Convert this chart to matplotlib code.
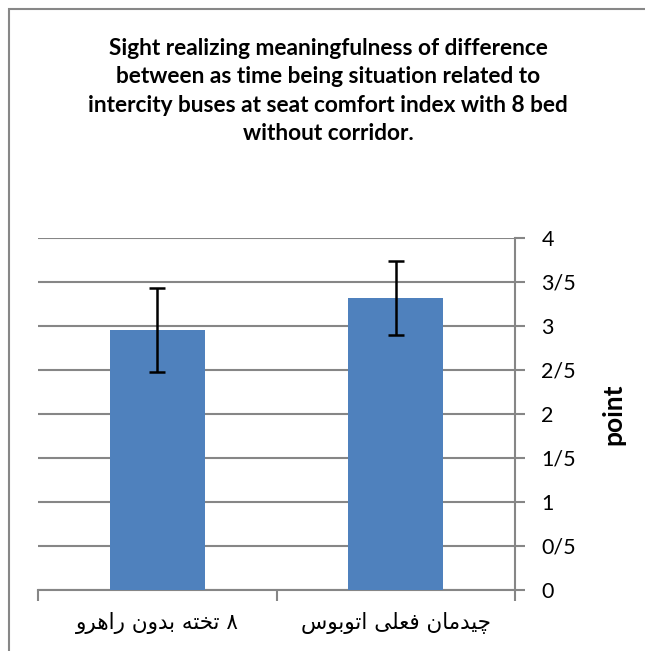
import numpy as np
import matplotlib
matplotlib.use('Agg')
import matplotlib.pyplot as plt
from matplotlib.patches import Rectangle

# Data
categories = ['۸ تخته بدون راهرو', 'چیدمان فعلی اتوبوس']
values = [2.955, 3.32]
errors = [0.475, 0.42]
y_ticks = [0, 0.5, 1, 1.5, 2, 2.5, 3, 3.5, 4]
y_tick_labels = ['0', '0/5', '1', '1/5', '2', '2/5', '3', '3/5', '4']
title = ('Sight realizing meaningfulness of difference\n'
         'between as time being situation related to\n'
         'intercity buses at seat comfort index with 8 bed\n'
         'without corridor.')

# Minimal Arabic-script shaping (matplotlib draws no joins and no RTL)
# forms: isolated, final, initial, medial
FORMS = {
    'ا': (0xFE8D, 0xFE8E), 'د': (0xFEA9, 0xFEAA), 'ر': (0xFEAD, 0xFEAE),
    'و': (0xFEED, 0xFEEE),
    'ب': (0xFE8F, 0xFE90, 0xFE91, 0xFE92), 'ت': (0xFE95, 0xFE96, 0xFE97, 0xFE98),
    'خ': (0xFEA5, 0xFEA6, 0xFEA7, 0xFEA8), 'س': (0xFEB1, 0xFEB2, 0xFEB3, 0xFEB4),
    'ع': (0xFEC9, 0xFECA, 0xFECB, 0xFECC), 'ف': (0xFED1, 0xFED2, 0xFED3, 0xFED4),
    'ل': (0xFEDD, 0xFEDE, 0xFEDF, 0xFEE0), 'م': (0xFEE1, 0xFEE2, 0xFEE3, 0xFEE4),
    'ن': (0xFEE5, 0xFEE6, 0xFEE7, 0xFEE8), 'ه': (0xFEE9, 0xFEEA, 0xFEEB, 0xFEEC),
    'چ': (0xFB7A, 0xFB7B, 0xFB7C, 0xFB7D), 'ی': (0xFBFC, 0xFBFD, 0xFBFE, 0xFBFF),
}


def shape(text):
    out = []
    for i, ch in enumerate(text):
        if ch not in FORMS:
            out.append(ch)
            continue
        prev = text[i - 1] if i > 0 else ''
        nxt = text[i + 1] if i + 1 < len(text) else ''
        join_prev = prev in FORMS and len(FORMS[prev]) == 4
        join_next = len(FORMS[ch]) == 4 and nxt in FORMS
        f = FORMS[ch]
        if join_prev and join_next:
            c = f[3]
        elif join_prev:
            c = f[1]
        elif join_next:
            c = f[2]
        else:
            c = f[0]
        out.append(chr(c))
    return ''.join(out)[::-1]


grid_col = '#868686'
bar_col = '#4F81BD'

fig = plt.figure(figsize=(6.45, 6.51), dpi=100)
ax = fig.add_axes([38 / 645, 1 - 590 / 651, 477 / 645, 352 / 651])

x = np.arange(len(categories))
ax.bar(x, values, width=0.4, color=bar_col, zorder=3)
ax.errorbar(x, values, yerr=errors, fmt='none', ecolor='black',
            elinewidth=1.8, capsize=6, capthick=1.8, zorder=4)

ax.set_xlim(-0.5, 1.5)
ax.set_ylim(0, 4)
ax.set_yticks(y_ticks)
ax.set_yticklabels(y_tick_labels, fontfamily='Lato', fontsize=15.5)
ax.yaxis.tick_right()
ax.yaxis.set_label_position('right')
ax.tick_params(axis='y', length=7, width=1.5, color=grid_col, pad=12)
ax.grid(axis='y', color=grid_col, linewidth=1.5, zorder=0)

# category ticks sit on the boundaries, labels centred under bars
ax.set_xticks([-0.5, 0.5, 1.5])
ax.set_xticklabels([])
ax.tick_params(axis='x', length=8, width=1.5, color=grid_col)
for xi, cat in zip(x, categories):
    ax.text(xi, -0.37, shape(cat), ha='center', va='center',
            fontsize=15.5, family=['DejaVu Sans'])

for side in ['top', 'left']:
    ax.spines[side].set_visible(False)
for side in ['bottom', 'right']:
    ax.spines[side].set_color(grid_col)
    ax.spines[side].set_linewidth(1.5)

ax.set_ylabel('point', fontfamily='Lato', fontweight='bold', fontsize=19,
              rotation=90, labelpad=18)

fig.text(328 / 645, 1 - 91 / 651, title, ha='center', va='center',
         fontfamily='Lato', fontweight='bold', fontsize=16.3, linespacing=1.45)

# outer chart border
fig.patches.append(Rectangle((9 / 645, -0.1), 1.2, 1 - 9 / 651 + 0.1,
                             transform=fig.transFigure, fill=False,
                             edgecolor='#878787', linewidth=1.5))

fig.savefig('out.png', dpi=100)
